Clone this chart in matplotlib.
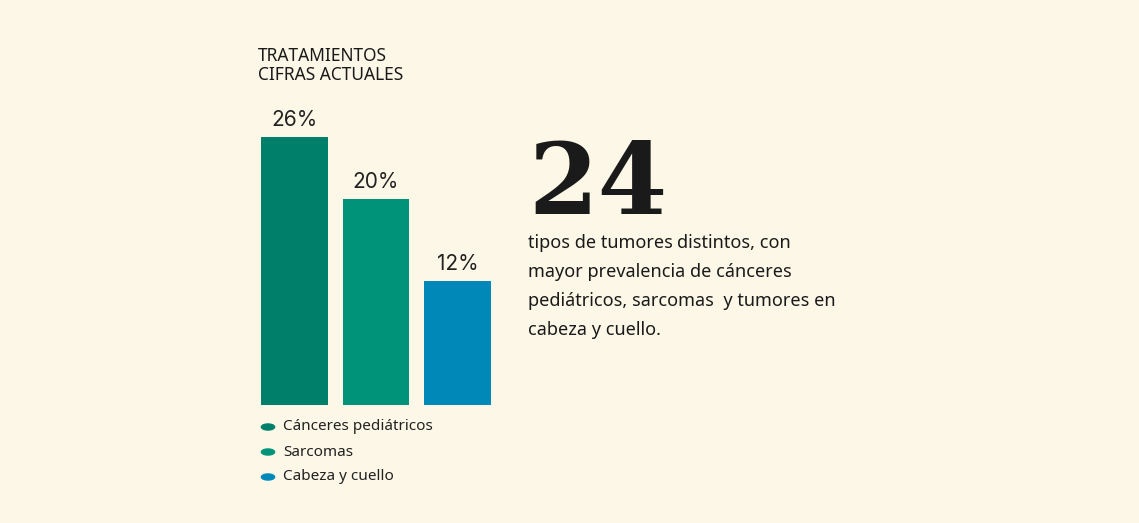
import matplotlib
matplotlib.use("Agg")
import matplotlib.pyplot as plt

categories = ["Cánceres pediátricos", "Sarcomas", "Cabeza y cuello"]
values = [26, 20, 12]
labels = ["26%", "20%", "12%"]
colors = ["#00806a", "#00937a", "#0089b8"]
bg = "#fcf7e6"
W, H = 1139, 523

fig = plt.figure(figsize=(W/100, H/100), dpi=100, facecolor=bg)
def fx(x): return x / W
def fy(y): return 1 - y / H

ax = fig.add_axes([fx(261), fy(405), fx(491) - fx(261), fy(137) - fy(405)])
ax.set_facecolor(bg)
ax.bar(range(3), values, width=0.82, color=colors)
ax.set_xlim(-0.41, 2.41)
ax.set_ylim(0, 26)
ax.axis("off")
for i, (v, l) in enumerate(zip(values, labels)):
    ax.annotate(l, (i, v), xytext=(0, 5), textcoords="offset points",
                ha="center", va="bottom", fontsize=15, family="Inter", color="#222")

fig.text(fx(258), fy(56), "TRATAMIENTOS", fontsize=12.5, weight="bold",
         family="Noto Sans", color="#1a1a1a", va="center")
fig.text(fx(258), fy(75), "CIFRAS ACTUALES", fontsize=12.5,
         family="Noto Sans", color="#1a1a1a", va="center")

for i, (c, col) in enumerate(zip(categories, colors)):
    y = 427 + i * 25
    fig.patches.append(plt.Circle((fx(268), fy(y)), 0.0058, color=col,
                                  transform=fig.transFigure))
    fig.text(fx(283), fy(y), c, fontsize=11, family="Noto Sans",
             color="#222", va="center")

fig.text(fx(528), fy(186), "24", fontsize=72, weight="bold",
         family="DejaVu Serif", color="#1a1a1a", va="center")
lines = ["distintos, con", "mayor prevalencia de cánceres",
         "pediátricos, sarcomas  y tumores en", "cabeza y cuello."]
t = fig.text(fx(528), fy(243), "tipos de tumores", fontsize=13, weight="bold",
             family="Noto Sans", color="#1a1a1a", va="center")
fig.canvas.draw()
bb = t.get_window_extent()
fig.text(bb.x1 / W + 0.004, fy(243), lines[0], fontsize=13, family="Noto Sans",
         color="#1a1a1a", va="center")
for i, l in enumerate(lines[1:]):
    fig.text(fx(528), fy(272 + i * 29), l, fontsize=13, family="Noto Sans",
             color="#1a1a1a", va="center")

fig.savefig("out.png", dpi=100, facecolor=bg)
